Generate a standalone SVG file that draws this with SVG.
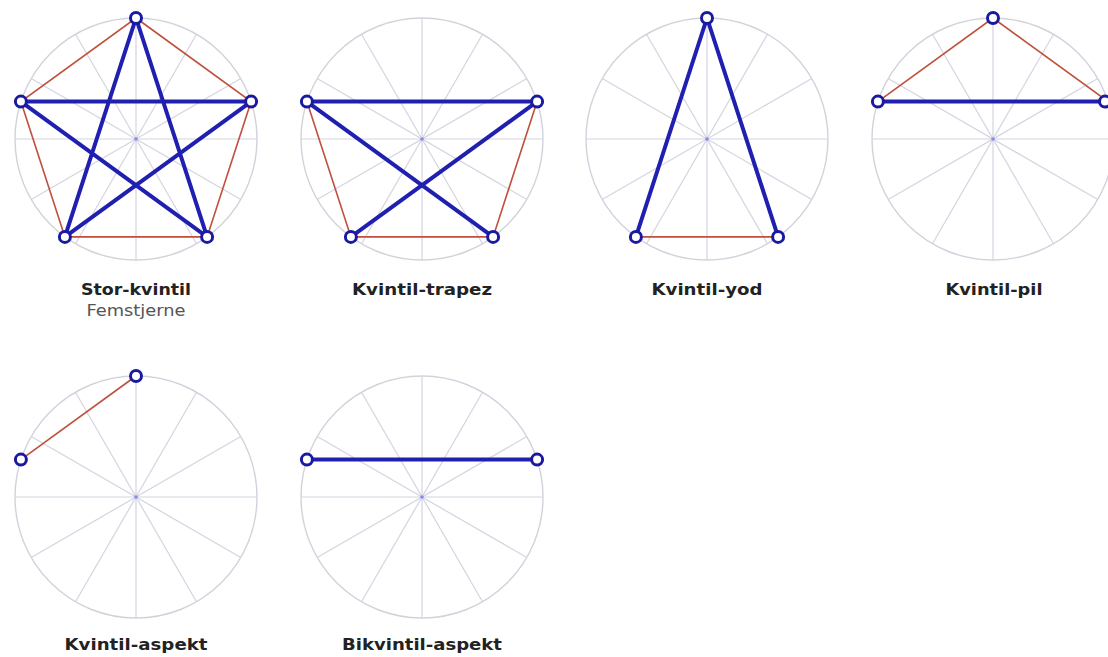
<svg xmlns="http://www.w3.org/2000/svg" xmlns:xlink="http://www.w3.org/1999/xlink" width="1108" height="657" viewBox="0 0 1108 657">
<style>
.rim{fill:none;stroke:#d2d2dc;stroke-width:1.4}
.spoke{stroke:#d4d4e2;stroke-width:1.2}
.red{stroke:#c0503c;stroke-width:1.6;fill:none}
.blue{stroke:#2020b0;stroke-width:4;fill:none;stroke-linecap:round}
.v{fill:#fff;stroke:#1a1aa0;stroke-width:3}
.t{font-family:"DejaVu Sans","Verdana",sans-serif;font-weight:bold;font-size:15.5px;fill:#222;text-anchor:middle}
.s{font-family:"DejaVu Sans","Verdana",sans-serif;font-size:15.5px;fill:#555;text-anchor:middle}
</style>
<defs>
<g id="wheel">
<circle class="rim" cx="0" cy="0" r="121"/>
<line class="spoke" x1="-121" y1="0" x2="121" y2="0"/>
<line class="spoke" x1="0" y1="-121" x2="0" y2="121"/>
<line class="spoke" x1="-104.8" y1="-60.5" x2="104.8" y2="60.5"/>
<line class="spoke" x1="-104.8" y1="60.5" x2="104.8" y2="-60.5"/>
<line class="spoke" x1="-60.5" y1="-104.8" x2="60.5" y2="104.8"/>
<line class="spoke" x1="-60.5" y1="104.8" x2="60.5" y2="-104.8"/>
<circle cx="0" cy="0" r="1.8" fill="#8a8ae8"/>
</g>
</defs>
<rect width="1108" height="657" fill="#fff"/>

<g id="wheels">
<use xlink:href="#wheel" x="136" y="139"/>
<use xlink:href="#wheel" x="422" y="139"/>
<use xlink:href="#wheel" x="707" y="139"/>
<use xlink:href="#wheel" x="993" y="139"/>
<use xlink:href="#wheel" x="136" y="497"/>
<use xlink:href="#wheel" x="422" y="497"/>
</g>

<g id="connectors">
<!-- Stor-kvintil -->
<polygon class="red" points="136,18 251.1,101.6 207.1,236.9 64.9,236.9 20.9,101.6"/>
<polygon class="blue" stroke-linejoin="round" points="136,18 207.1,236.9 20.9,101.6 251.1,101.6 64.9,236.9"/>
<!-- Kvintil-trapez -->
<polyline class="red" points="306.9,101.6 350.9,236.9 493.1,236.9 537.1,101.6"/>
<line class="blue" x1="306.9" y1="101.6" x2="537.1" y2="101.6"/>
<line class="blue" x1="306.9" y1="101.6" x2="493.1" y2="236.9"/>
<line class="blue" x1="537.1" y1="101.6" x2="350.9" y2="236.9"/>
<!-- Kvintil-yod -->
<line class="red" x1="635.9" y1="236.9" x2="778.1" y2="236.9"/>
<line class="blue" x1="707" y1="18" x2="635.9" y2="236.9"/>
<line class="blue" x1="707" y1="18" x2="778.1" y2="236.9"/>
<!-- Kvintil-pil -->
<polyline class="red" points="877.9,101.6 993,18 1108.1,101.6"/>
<line class="blue" x1="877.9" y1="101.6" x2="1108.1" y2="101.6"/>
<!-- Kvintil-aspekt -->
<line class="red" x1="20.9" y1="459.6" x2="136" y2="376"/>
<!-- Bikvintil-aspekt -->
<line class="blue" x1="306.9" y1="459.6" x2="537.1" y2="459.6"/>
</g>

<g id="stor-kvintil">
<circle class="v" cx="136" cy="18" r="5.5"/>
<circle class="v" cx="251.1" cy="101.6" r="5.5"/>
<circle class="v" cx="207.1" cy="236.9" r="5.5"/>
<circle class="v" cx="64.9" cy="236.9" r="5.5"/>
<circle class="v" cx="20.9" cy="101.6" r="5.5"/>
<text class="t" x="136" y="295" textLength="110" lengthAdjust="spacingAndGlyphs">Stor-kvintil</text>
<text class="s" x="136" y="316" textLength="99" lengthAdjust="spacingAndGlyphs">Femstjerne</text>
</g>

<g id="kvintil-trapez">
<circle class="v" cx="306.9" cy="101.6" r="5.5"/>
<circle class="v" cx="537.1" cy="101.6" r="5.5"/>
<circle class="v" cx="350.9" cy="236.9" r="5.5"/>
<circle class="v" cx="493.1" cy="236.9" r="5.5"/>
<text class="t" x="422" y="295" textLength="140" lengthAdjust="spacingAndGlyphs">Kvintil-trapez</text>
</g>

<g id="kvintil-yod">
<circle class="v" cx="707" cy="18" r="5.5"/>
<circle class="v" cx="635.9" cy="236.9" r="5.5"/>
<circle class="v" cx="778.1" cy="236.9" r="5.5"/>
<text class="t" x="707" y="295" textLength="111" lengthAdjust="spacingAndGlyphs">Kvintil-yod</text>
</g>

<g id="kvintil-pil">
<circle class="v" cx="993" cy="18" r="5.5"/>
<circle class="v" cx="877.9" cy="101.6" r="5.5"/>
<circle class="v" cx="1105" cy="101.6" r="5.5"/>
<text class="t" x="994" y="295" textLength="97" lengthAdjust="spacingAndGlyphs">Kvintil-pil</text>
</g>

<g id="kvintil-aspekt">
<circle class="v" cx="136" cy="376" r="5.5"/>
<circle class="v" cx="20.9" cy="459.6" r="5.5"/>
<text class="t" x="136" y="650" textLength="143" lengthAdjust="spacingAndGlyphs">Kvintil-aspekt</text>
</g>

<g id="bikvintil-aspekt">
<circle class="v" cx="306.9" cy="459.6" r="5.5"/>
<circle class="v" cx="537.1" cy="459.6" r="5.5"/>
<text class="t" x="422" y="650" textLength="160" lengthAdjust="spacingAndGlyphs">Bikvintil-aspekt</text>
</g>
</svg>
